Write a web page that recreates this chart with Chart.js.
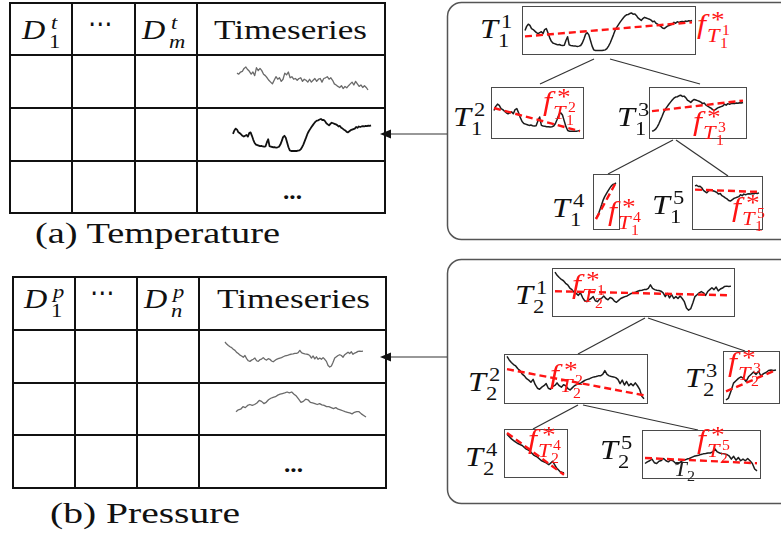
<!DOCTYPE html>
<html>
<head>
<meta charset="utf-8">
<script src="https://cdn.jsdelivr.net/npm/chart.js@4.4.1/dist/chart.umd.min.js"></script>
<style>
html,body{margin:0;padding:0;background:#fff;}
#page{position:relative;width:781px;height:539px;overflow:hidden;background:#fff;}
#frame{position:absolute;left:0;top:0;}
.t{position:absolute;line-height:1;white-space:nowrap;transform-origin:0 0;
   font-family:"Liberation Serif","Tinos","Times New Roman","DejaVu Serif","Noto Serif",serif;}
.box{position:absolute;border:1.5px solid #4a4a4a;box-sizing:border-box;background:#fff;}
</style>
</head>
<body>
<div id="page">
  <svg id="frame" width="781" height="539"></svg>
</div>
<script>
// station series (temperature) - first one is split in the tree
const tempStation = [7.2,8.5,9.2,8.8,7.8,7.5,7.0,6.5,6.2,6.5,
  6.8,6.2,7.5,7.8,6.5,5.0,3.8,3.2,3.0,2.8,
  2.6,2.7,2.5,2.4,2.5,4.0,5.2,2.6,2.4,2.3,
  2.2,2.2,2.1,2.2,2.4,3.2,4.5,6.0,6.5,5.8,
  4.0,2.2,1.0,0.8,0.8,0.8,0.8,0.8,0.9,1.0,
  1.4,2.2,3.2,4.5,5.8,7.2,8.2,9.0,9.8,10.5,
  11.2,11.8,12.2,12.3,12.6,12.8,12.4,12.5,12.0,11.2,
  10.8,10.4,11.0,11.4,11.2,11.0,10.8,10.5,10.0,10.2,
  9.5,9.2,8.8,8.5,8.0,7.8,8.2,8.6,8.8,9.0,
  9.2,9.8,9.5,10.0,9.8,10.0,10.1,10.0,10.2,10.1,
  10.3,10.2,10.4];
const tempStationB = [6.5,6.2,6.8,7.0,7.8,8.2,7.5,7.0,6.2,6.8,
  5.8,8.0,7.2,7.8,7.2,6.2,5.8,5.2,4.5,4.0,
  3.5,4.5,5.5,4.8,5.2,4.2,4.8,6.5,6.0,6.8,
  5.2,5.5,4.8,5.0,4.5,5.0,5.2,4.2,4.8,4.5,
  4.0,4.8,4.0,4.5,5.0,4.2,4.8,5.0,4.0,5.0,
  5.2,5.5,4.8,5.2,4.5,3.5,3.2,2.8,2.5,3.0,
  2.2,2.8,2.4,3.0,3.5,4.0,3.2,4.2,3.5,2.8,
  3.2,2.5,3.0,2.5,1.8];

// station series (pressure) - first one is split in the tree
const presStation = [13.5,12.5,11.8,11.2,10.8,10.0,9.5,8.5,8.0,7.2,
  6.8,6.2,7.0,5.5,4.5,4.2,4.8,5.2,5.8,4.5,
  4.2,5.0,5.3,6.0,5.2,4.8,5.5,5.2,4.4,4.0,
  4.6,5.2,5.5,5.8,6.0,6.4,6.8,7.0,7.2,7.5,
  7.7,7.8,8.0,8.0,8.4,9.5,8.4,8.0,7.8,7.7,
  7.5,7.0,5.8,6.8,5.4,6.4,5.2,5.8,5.2,6.0,
  5.2,4.2,2.2,1.5,2.0,3.8,5.8,6.4,7.0,7.4,
  7.0,6.2,7.4,8.0,8.6,8.0,8.8,7.6,8.2,8.5,
  9.0,9.1,9.0,9.1];
const presStationB = [2.2,2.8,3.0,3.8,3.5,4.2,4.5,4.2,4.5,5.0,
  5.8,5.5,4.8,5.2,6.0,6.5,6.8,7.0,7.5,7.8,
  8.0,8.2,8.5,8.2,8.5,7.8,7.2,6.2,5.2,5.5,
  6.2,6.0,5.2,5.0,4.8,4.5,4.8,4.4,4.2,3.8,
  3.8,3.5,3.2,3.5,3.0,2.8,2.5,2.2,2.0,1.8,
  1.5,2.0,2.2,2.2,1.5,1.0,0.5];

// tree nodes T^1..T^5: [start, end) index ranges of the split series
const tempNodes = [[0,103],[0,50],[48,103],[50,65],[64,103]];
const presNodes = [[0,84],[0,64],[63,84],[0,16],[15,64]];
// fitted linear model f* of each node: value at first and last point
const tempFits = [[5.3,9.8],[8.0,0.8],[7.5,11.0],[1.2,12.8],[11.4,10.7]];
const presFits = [[7.5,6.2],[9.9,2.5],[3.7,9.1],[13.8,3.8],[6.2,4.3]];

const page = document.getElementById('page');
const svg = document.getElementById('frame');
const NS = 'http://www.w3.org/2000/svg';
const RED = '#ff1414';

function svgEl(tag, attrs) {
  const e = document.createElementNS(NS, tag);
  for (const k in attrs) e.setAttribute(k, attrs[k]);
  svg.appendChild(e);
  return e;
}

// ---- tables ----
function grid(xs, ys) {
  xs.forEach(x => svgEl('line', {x1:x, y1:ys[0]-1, x2:x, y2:ys[ys.length-1]+1, stroke:'#111', 'stroke-width':2}));
  ys.forEach(y => svgEl('line', {x1:xs[0]-1, y1:y, x2:xs[xs.length-1]+1, y2:y, stroke:'#111', 'stroke-width':2}));
}
grid([10,72,135,197,385], [3,55,108,161,213]);
grid([13,75,137,199,386], [277,330,383,435,488]);

// ---- tree frames, edges and arrows ----
svgEl('rect', {x:447.5, y:2.5, width:360, height:237, rx:14, fill:'none', stroke:'#555', 'stroke-width':1.5});
svgEl('rect', {x:447.5, y:259.5, width:360, height:244, rx:14, fill:'none', stroke:'#555', 'stroke-width':1.5});
[[594,59,540,84],[610,59,700,84],[673,140,608,174],[676,140,728,176],
 [645,318,578,354],[648,318,745,351],[578,405,533,429],[583,405,698,430]]
  .forEach(l => svgEl('line', {x1:l[0], y1:l[1], x2:l[2], y2:l[3], stroke:'#333', 'stroke-width':1.2}));
[134, 357].forEach(y => {
  svgEl('line', {x1:447, y1:y, x2:389, y2:y, stroke:'#333', 'stroke-width':1.2});
  svgEl('polygon', {points:`380,${y} 391,${y-4.5} 391,${y+4.5}`, fill:'#111'});
});

// ---- mini line charts ----
function spark(parent, left, top, w, h, series, o) {
  const c = document.createElement('canvas');
  c.width = w; c.height = h;
  c.style.cssText = `position:absolute;left:${left}px;top:${top}px;width:${w}px;height:${h}px`;
  parent.appendChild(c);
  const labels = series.map((_, i) => i);
  const datasets = [];
  if (o.fit) {
    const fitData = series.map(() => null);
    fitData[0] = o.fit[0];
    fitData[series.length - 1] = o.fit[1];
    datasets.push({data: fitData, borderColor: RED, borderWidth: 2.4, borderDash: [7, 4],
      spanGaps: true, pointRadius: 0, clip: false});
  }
  datasets.push({data: series, borderColor: o.color, borderWidth: o.width, pointRadius: 0,
    tension: 0, clip: false, borderJoinStyle: 'round'});
  new Chart(c, {
    type: 'line',
    data: {labels, datasets},
    options: {
      responsive: false, animation: false, events: [],
      layout: {padding: o.pad || {left: 2, right: 2, top: 1, bottom: 1}},
      plugins: {legend: {display: false}, tooltip: {enabled: false}},
      scales: {
        x: {display: false},
        y: {display: false, bounds: 'data', min: o.min, max: o.max}
      }
    }
  });
}

// table rows
spark(page, 235, 66, 135, 25, tempStationB, {color: '#6a6a6a', width: 1.3});
spark(page, 231, 118, 142, 34, tempStation, {color: '#111', width: 1.8});
spark(page, 223, 341, 142, 27, presStation, {color: '#6a6a6a', width: 1.3});
spark(page, 234, 391, 134, 27, presStationB, {color: '#6a6a6a', width: 1.3});

// tree node boxes: left, top, width, height, y range
const tempBoxes = [[522,6,174,49,0,14.7],[491,87,93,52,-1.0,14.2],[649,87,98,52,-1.1,15.2],
                   [593,174,27,56,-1.6,15.1],[692,176,71,54,-0.7,15.4]];
const presBoxes = [[552,268,183,49,0,14.5],[504,354,144,50,0.6,13.9],[723,351,57,53,1.0,13.7],
                   [504,429,64,49,3.5,14.5],[642,430,119,49,-0.7,16.0]];

function tree(boxes, series, nodes, fits) {
  boxes.forEach((b, i) => {
    const d = document.createElement('div');
    d.className = 'box';
    d.style.cssText = `left:${b[0]}px;top:${b[1]}px;width:${b[2]}px;height:${b[3]}px`;
    page.appendChild(d);
    const seg = series.slice(nodes[i][0], nodes[i][1]);
    spark(d, 0, 0, b[2] - 3, b[3] - 3, seg,
      {color: '#1c1c1c', width: 1.5, fit: fits[i], min: b[4], max: b[5],
       pad: {left: 2, right: 2, top: 0, bottom: 0}});
  });
}
tree(tempBoxes, tempStation, tempNodes, tempFits);
tree(presBoxes, presStation, presNodes, presFits);

// ---- text ----
// o.w: stretch the text to this width; o.sx: fixed horizontal stretch
function txt(str, x, base, size, o) {
  o = o || {};
  const s = document.createElement('span');
  s.className = 't';
  s.textContent = str;
  s.style.fontSize = size + 'px';
  s.style.left = x + 'px';
  s.style.top = (base - 0.84 * size) + 'px';
  if (o.italic) s.style.fontStyle = 'italic';
  if (o.bold) s.style.fontWeight = 'bold';
  if (o.font) s.style.fontFamily = o.font;
  s.style.color = o.color || '#111';
  page.appendChild(s);
  const natural = s.getBoundingClientRect().width;
  const sx = o.w ? o.w / natural : (o.sx || 1.15);
  s.style.transform = `scaleX(${sx})`;
  return natural * sx;
}

// kerning of scripts after a base letter (fraction of size)
const KERN = {T: [0.1, 0.0], D: [0.2, 0.15], f: [0.18, 0.05]};

function sym(spec, x, base, size, color) {
  const w = txt(spec.b, x, base, size, {italic: true, color});
  const k = KERN[spec.b];
  const ss = size * 0.7;
  if (spec.sup) {
    if (spec.sup === '*') txt('*', x + w + k[0] * size, base - 0.2 * size, size * 0.85, {color});
    else txt(spec.sup, x + w + k[0] * size, base - 0.36 * size, ss, {italic: /[a-z]/.test(spec.sup), color});
  }
  if (spec.sub) {
    const sx = x + w + k[1] * size, sb = base + 0.3 * size;
    if (typeof spec.sub === 'object') sym(spec.sub, sx, sb, ss, color);
    else txt(spec.sub, sx, sb, ss, {italic: /[a-z]/.test(spec.sub), color});
  }
}

// table headers
sym({b: 'D', sup: 't', sub: '1'}, 22, 40, 28);
txt('\u22EF', 88, 34, 28, {font: 'DejaVu Sans', w: 25});
sym({b: 'D', sup: 't', sub: 'm'}, 142, 40, 28);
txt('Timeseries', 214, 40, 28, {w: 153});
txt('...', 283, 199, 24, {bold: true, w: 19});

sym({b: 'D', sup: 'p', sub: '1'}, 24, 309, 28);
txt('\u22EF', 90, 303, 28, {font: 'DejaVu Sans', w: 25});
sym({b: 'D', sup: 'p', sub: 'n'}, 144, 309, 28);
txt('Timeseries', 217, 309, 28, {w: 153});
txt('...', 284, 472, 24, {bold: true, w: 19});

// captions
txt('(a) Temperature', 35, 243, 29, {w: 245});
txt('(b) Pressure', 50, 523, 29, {w: 190});

// tree labels: node name and fitted model
const tempLabels = [[480,39, 697,34], [453,127, 543,111], [617,127, 693,131], [552,218, 608,221], [652,215, 732,217]];
const presLabels = [[515,305, 572,294], [468,392, 550,384], [685,388, 728,372], [465,467, 528,449], [600,460, 697,449]];

function treeLabels(labels, idx) {
  labels.forEach((l, i) => {
    const node = {b: 'T', sup: String(i + 1), sub: idx};
    sym(node, l[0], l[1], 28, '#111');
    sym({b: 'f', sup: '*', sub: node}, l[2], l[3], 28, RED);
  });
}
treeLabels(tempLabels, '1');
treeLabels(presLabels, '2');
sym({b: 'T', sub: '2'}, 674, 476, 20, '#222');
</script>
</body>
</html>
